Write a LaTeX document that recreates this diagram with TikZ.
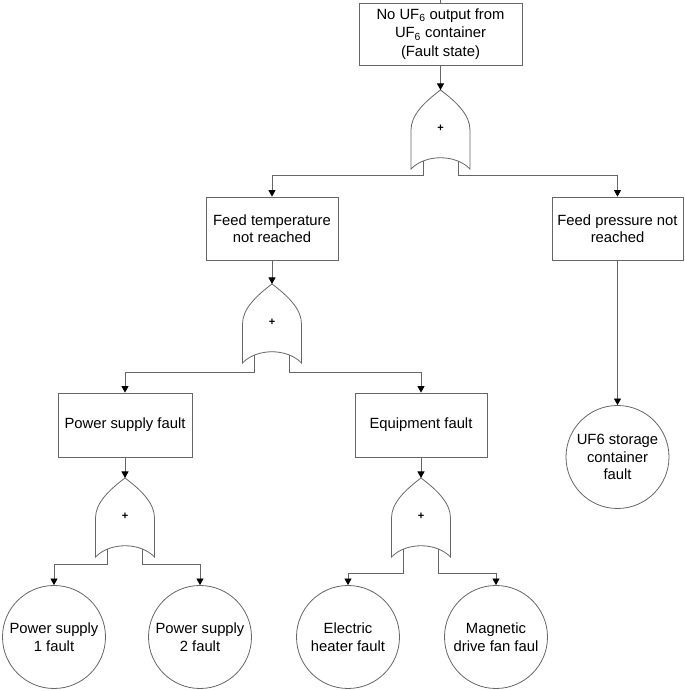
\documentclass[tikz,border=0pt]{standalone}
\usepackage{fontspec}
\setmainfont{Liberation Sans}
\usetikzlibrary{arrows.meta, positioning}

% fault tree OR gate, origin at the top tip
\tikzset{
    orgate/.pic={
        \draw[wire, fill=white] (0,0) .. controls (-16,-12) and (-29.5,-25) .. (-29.5,-40)
            -- (-29.5,-79) .. controls (-15,-64) and (15,-64) .. (29.5,-79)
            -- (29.5,-40) .. controls (29.5,-25) and (16,-12) .. (0,0) -- cycle;
        \node[font=\fontsize{11}{11}\selectfont\bfseries] (-sign) at (0,-38) {+};
        \coordinate (-in) at (0,0);
        \coordinate (-l) at (-17.5,-71);
        \coordinate (-r) at (17.5,-71);
    }
}

\begin{document}
\begin{tikzpicture}[
    x=1pt, y=1pt,
    every node/.style={font=\fontsize{14.8}{17.5}\selectfont},
    wire/.style={draw=black!60, line width=0.8pt},
    arr/.style={wire, -{Triangle[width=7pt, length=6.5pt, color=black]}},
    event/.style={wire, rectangle, minimum width=132pt, minimum height=63pt, align=center, inner sep=2pt},
    basic/.style={wire, circle, minimum size=103pt, inner sep=0pt, align=center},
]
\useasboundingbox (0,0) rectangle (685,691);

% =========================================================
% 1. Top event
% =========================================================
\node[event, minimum width=163pt, minimum height=62pt, font=\fontsize{14.8}{18.5}\selectfont] (top) at (440.5,657)
    {No UF\textsubscript{6} output from\\UF\textsubscript{6} container\\(Fault state)};
\coordinate (topin) at (440.5,691);
\draw[wire] (topin) -- (top.north);

\pic (OR1) at (440.5,601) {orgate};
\draw[arr] (top.south) -- (OR1-in);

% =========================================================
% 2. Intermediate events
% =========================================================
\node[event] (ftemp) at (272,462.5) {Feed temperature\\not reached};
\node[event, minimum width=131pt] (fpress) at (617.5,462.5) {Feed pressure not\\reached};

% OR1 -> both branches
\draw[arr] (OR1-l) -- ++(0,-14) -| (ftemp.north);
\draw[arr] (OR1-r) -- ++(0,-14) -| (fpress.north);

% Feed temperature -> OR2
\pic (OR2) at (272,407) {orgate};
\draw[arr] (ftemp.south) -- (OR2-in);

\node[event, minimum width=134pt, minimum height=64pt] (psup) at (125,266) {Power supply fault};
\node[event, minimum height=64pt] (equip) at (421,266) {Equipment fault};

\draw[arr] (OR2-l) -- ++(0,-17) -| (psup.north);
\draw[arr] (OR2-r) -- ++(0,-17) -| (equip.north);

% Feed pressure -> basic event
\node[basic] (uf6) at (617.5,234) {UF6 storage\\container\\fault};
\draw[arr] (fpress.south) -- (uf6.north);

% =========================================================
% 3. Basic events
% =========================================================
\pic (OR3) at (125,213) {orgate};
\draw[arr] (psup.south) -- (OR3-in);

\pic (OR4) at (421,213) {orgate};
\draw[arr] (equip.south) -- (OR4-in);

\node[basic] (ps1) at (54,54) {Power supply\\1 fault};
\node[basic] (ps2) at (200,54) {Power supply\\2 fault};
\node[basic] (heat) at (348,54) {Electric\\heater fault};
\node[basic] (fan) at (496,54) {Magnetic\\drive fan faul};

% OR3 -> power supplies
\draw[arr] (OR3-l) -- ++(0,-15) -| (ps1.north);
\draw[arr] (OR3-r) -- ++(0,-15) -| (ps2.north);

% OR4 -> equipment
\draw[arr] (OR4-l) -- ++(0,-24) -| (heat.north);
\draw[arr] (OR4-r) -- ++(0,-24) -| (fan.north);

\end{tikzpicture}
\end{document}
